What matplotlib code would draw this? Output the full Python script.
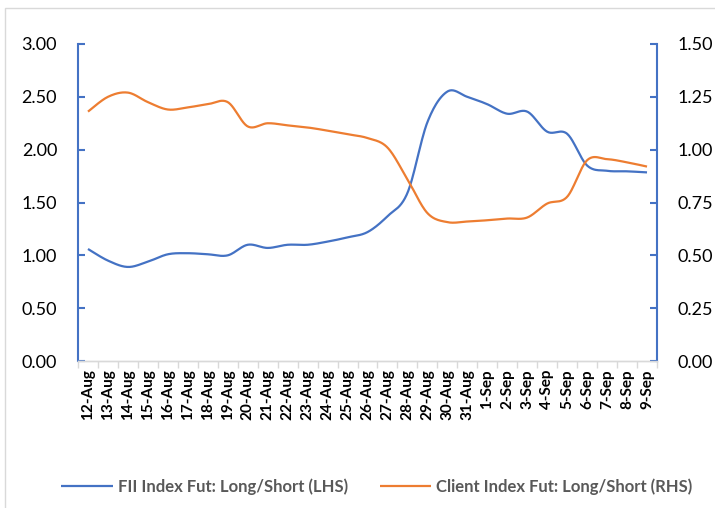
import numpy as np
import matplotlib
matplotlib.use('Agg')
import matplotlib.pyplot as plt
from matplotlib.patches import Rectangle

plt.rcParams['font.family'] = ['Lato', 'DejaVu Sans']

dates = ['12-Aug', '13-Aug', '14-Aug', '15-Aug', '16-Aug', '17-Aug', '18-Aug',
         '19-Aug', '20-Aug', '21-Aug', '22-Aug', '23-Aug', '24-Aug', '25-Aug',
         '26-Aug', '27-Aug', '28-Aug', '29-Aug', '30-Aug', '31-Aug',
         '1-Sep', '2-Sep', '3-Sep', '4-Sep', '5-Sep', '6-Sep', '7-Sep', '8-Sep', '9-Sep']

# FII index futures long/short ratio (left axis)
fii = [1.06, 0.95, 0.89, 0.94, 1.01, 1.02, 1.01, 1.00, 1.10, 1.07, 1.10, 1.10,
       1.13, 1.17, 1.22, 1.37, 1.59, 2.26, 2.55, 2.50,
       2.43, 2.34, 2.36, 2.17, 2.15, 1.85, 1.80, 1.795, 1.785]

# Client index futures long/short ratio (right axis)
client = [1.18, 1.25, 1.27, 1.225, 1.19, 1.20, 1.215, 1.225, 1.11, 1.125, 1.115, 1.105,
          1.09, 1.073, 1.055, 1.01, 0.86, 0.70, 0.657, 0.66,
          0.666, 0.674, 0.679, 0.745, 0.777, 0.95, 0.955, 0.94, 0.92]

left_ticks = [0, 0.5, 1.0, 1.5, 2.0, 2.5, 3.0]
right_ticks = [0, 0.25, 0.5, 0.75, 1.0, 1.25, 1.5]

BLUE = '#4472C4'
ORANGE = '#ED7D31'
GRID = '#D9D9D9'


def smooth(x, y, n=24):
    # Excel-style smoothed line: Catmull-Rom segments drawn as cubic Bezier
    pts = np.column_stack([x, y]).astype(float)
    out = []
    for i in range(len(pts) - 1):
        p0 = pts[max(i - 1, 0)]
        p1 = pts[i]
        p2 = pts[i + 1]
        p3 = pts[min(i + 2, len(pts) - 1)]
        c1 = p1 + (p2 - p0) / 6
        c2 = p2 - (p3 - p1) / 6
        t = np.linspace(0, 1, n)[:, None]
        seg = (1 - t) ** 3 * p1 + 3 * (1 - t) ** 2 * t * c1 + 3 * (1 - t) * t ** 2 * c2 + t ** 3 * p2
        out.append(seg if i == 0 else seg[1:])
    return np.vstack(out)


fig = plt.figure(figsize=(7.15, 5.08), dpi=100)
ax = fig.add_axes([78 / 715, 1 - 361 / 508, (657 - 78) / 715, (361 - 44) / 508])
ax2 = ax.twinx()

x = np.arange(len(dates))
s1 = smooth(x, fii)
s2 = smooth(x, client)
l1, = ax.plot(s1[:, 0], s1[:, 1], color=BLUE, lw=1.6, solid_capstyle='butt',
              label='FII Index Fut: Long/Short (LHS)')
l2, = ax2.plot(s2[:, 0], s2[:, 1], color=ORANGE, lw=1.6, solid_capstyle='butt',
               label='Client Index Fut: Long/Short (RHS)')

ax.set_xlim(-0.5, len(dates) - 0.5)
ax.set_ylim(0, 3.0)
ax2.set_ylim(0, 1.5)

ax.set_yticks(left_ticks)
ax.set_yticklabels([f'{v:.2f}' for v in left_ticks])
ax2.set_yticks(right_ticks)
ax2.set_yticklabels([f'{v:.2f}' for v in right_ticks])

ax.set_xticks(x)
ax.set_xticklabels(dates, rotation=90, fontsize=11, fontweight='bold')
ax.set_xticks(np.arange(-0.5, len(dates)), minor=True)
ax.tick_params(axis='x', which='major', length=0, pad=6)
ax.tick_params(axis='x', which='minor', length=5, width=1, color=GRID, direction='out')

for a in (ax, ax2):
    a.spines['top'].set_visible(False)
    a.spines['bottom'].set_color(GRID)
    a.spines['bottom'].set_linewidth(1)
ax.spines['right'].set_visible(False)
ax2.spines['left'].set_visible(False)
ax.spines['left'].set_color(BLUE)
ax.spines['left'].set_linewidth(1.5)
ax2.spines['right'].set_color(BLUE)
ax2.spines['right'].set_linewidth(1.5)

ax.tick_params(axis='y', direction='in', length=5, width=1.5, color=BLUE,
               labelsize=13, pad=15)
ax2.tick_params(axis='y', direction='in', length=5, width=1.5, color=BLUE,
                labelsize=13, pad=15)

leg = fig.legend(handles=[l1, l2], loc='center', bbox_to_anchor=(0.527, 1 - 487 / 508),
                 ncol=2, frameon=False, handlelength=3.1, handletextpad=0.3,
                 columnspacing=1.9, prop={'size': 12, 'weight': 'bold'})
for t in leg.get_texts():
    t.set_color('#595959')

# chart area border
fig.add_artist(Rectangle((5 / 715, -0.02), 1.0, 1 - 8 / 508 + 0.02,
                         transform=fig.transFigure, fill=False, edgecolor=GRID, lw=1))

fig.savefig('out.png', dpi=100)
